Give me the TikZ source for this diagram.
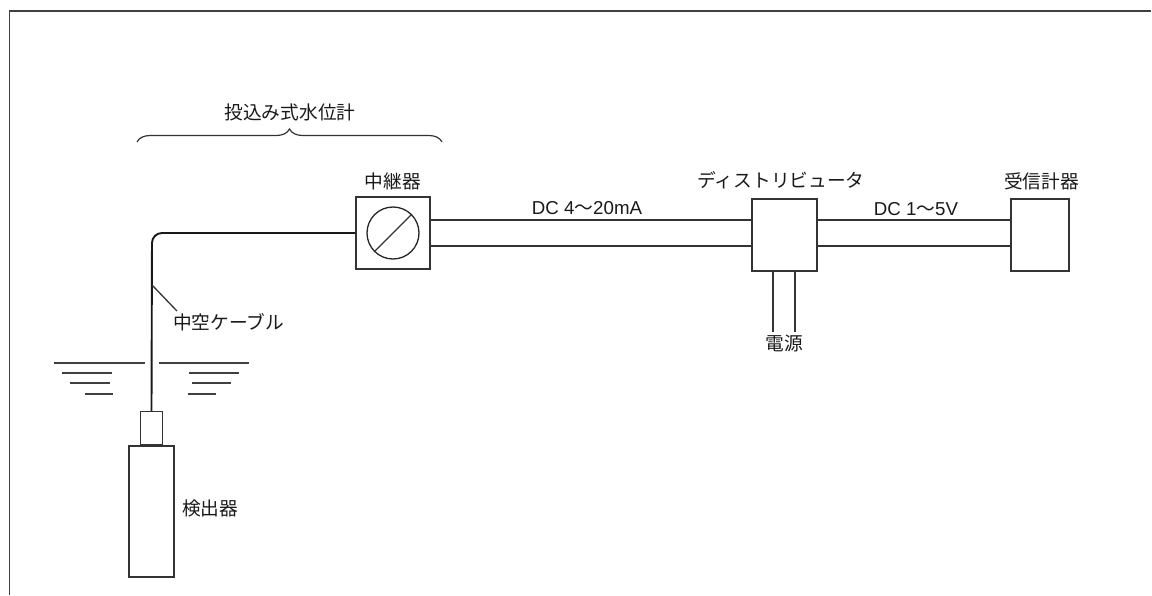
\documentclass[tikz,border=0pt]{standalone}
\usepackage{fontspec}
\setmainfont{Liberation Sans}
\newfontfamily\cjk{Noto Sans CJK JP}
\usetikzlibrary{positioning, calc, decorations.pathreplacing}

\begin{document}
\begin{tikzpicture}[
    x=1pt, y=-1pt,
    node distance=3pt,
    box/.style={draw=black!80, line width=1.3pt, minimum width=#1, minimum height=72pt, inner sep=0pt},
    box/.default=65pt,
    wire/.style={draw=black!80, line width=1.3pt},
    cable/.style={draw=black!90, line width=1.9pt},
    wave/.style={draw=black!75, line width=1.3pt},
    label/.style={font=\fontsize{18.7}{20}\selectfont\cjk, text=black!90, inner sep=0pt},
    signal/.style={font=\fontsize{18.7}{20}\selectfont, text=black!90, inner sep=0pt}
]
    \useasboundingbox (0,0) rectangle (1152,596);

    % frame
    \draw[black!75, line width=1.5pt] (9.5,595) -- (9.5,11) -- (1151,11);

    % boxes
    \node[box=74pt] (relay) at (393,233) {};
    \node[box] (dist) at (784.5,235) {};
    \node[box=58pt] (recv) at (1040,235) {};
    \node[draw=black!85, circle, line width=1.3pt, minimum size=52pt, inner sep=0pt] (dial) at (relay.center) {};
    \draw[wire] (dial.south west) -- (dial.north east);

    % detector
    \node[draw=black!80, line width=1.3pt, minimum width=45pt, minimum height=131pt, inner sep=0pt] (body) at (151.5,511.5) {};
    \node[draw=black!80, line width=1.3pt, minimum width=22pt, minimum height=33pt, inner sep=0pt, above=0pt of body] (neck) {};

    % hollow cable
    \coordinate (bend) at (152,233);
    \coordinate (tap) at (152,285);
    \draw[cable, rounded corners=10pt] (relay.west) -- (bend) -- (neck.north);
    \node[label, anchor=west] (hollow) at (173,322) {中空ケーブル};
    \coordinate (tapend) at ($(hollow.north west)+(4,-2)$);
    \draw[wire] (tap) -- (tapend);

    % signal lines
    \foreach \y in {220,246} {
        \draw[wire] (relay.east |- 0,\y) -- (dist.west |- 0,\y);
        \draw[wire] (dist.east |- 0,\y) -- (recv.west |- 0,\y);
    }

    % power lines
    \node[label] (power) at (784,343) {電源};
    \draw[wire] (773,271) -- (773,332);
    \draw[wire] (795,271) -- (795,332);

    % water surface
    \foreach \y/\a/\b/\c/\d in {363/54/145/159/249, 373/62/112/189/239, 383/70/110/192/231, 394/85/113/188/216} {
        \draw[wave] (\a,\y) -- (\b,\y);
        \draw[wave] (\c,\y) -- (\d,\y);
    }

    % labels
    \node[label] (relaylabel) at (393,181) {中継器};
    \node[label] (distlabel) at (781,180) {ディストリビュータ};
    \node[label] (recvlabel) at (1041.5,181) {受信計器};
    \node[label, anchor=west] (detlabel) at (182,508) {検出器};
    \node[signal] (dc4) at (587,208) {DC 4{\cjk 〜}20mA};
    \node[signal] (dc1) at (916,209) {DC 1{\cjk 〜}5V};

    % brace
    \coordinate (bracel) at (137,142);
    \coordinate (bracer) at (442,142);
    \draw[black!80, line width=1.2pt, decorate, decoration={brace, amplitude=13pt}] (bracel) -- (bracer);
    \node[label] (gauge) at (290,112) {投込み式水位計};
\end{tikzpicture}
\end{document}
